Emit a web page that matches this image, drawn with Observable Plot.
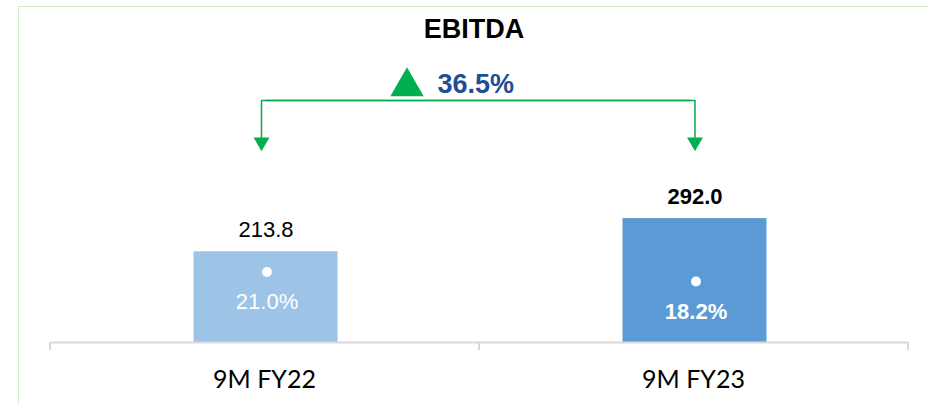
<!DOCTYPE html>
<html>
<head>
<meta charset="utf-8">
<script src="https://cdn.jsdelivr.net/npm/d3@7"></script>
<script src="https://cdn.jsdelivr.net/npm/@observablehq/plot@0.6"></script>
<style>
  html, body { margin: 0; padding: 0; background: #fff; }
  #wrap { position: relative; width: 928px; height: 404px; overflow: hidden; font-family: "Liberation Sans", Arial, sans-serif; }
  #frameTop { position: absolute; left: 18px; top: 6px; width: 910px; height: 0; border-top: 1px solid #d6edcc; }
  #frameLeft { position: absolute; left: 18px; top: 6px; width: 0; height: 398px; border-left: 1px solid #d6edcc; }
  #title { position: absolute; left: 0; top: 14px; width: 948px; text-align: center; font-size: 27px; line-height: 30px; font-weight: bold; color: #000; }
  .layer { position: absolute; left: 0; top: 0; }
</style>
</head>
<body>
<div id="wrap">
  <div id="frameTop"></div>
  <div id="frameLeft"></div>
  <div id="main" class="layer"></div>
  <div id="overlay" class="layer"></div>
  <div id="title"></div>
</div>
<script>
// ---- data ----
const title = "EBITDA";
const categories = ["9M FY22", "9M FY23"];
const ebitda = [213.8, 292.0];
const margin = [21.0, 18.2];
const growthLabel = "36.5%";

// ---- build ----
const data = categories.map((c, i) => ({
  period: c,
  ebitda: ebitda[i],
  margin: margin[i],
  label: ebitda[i].toFixed(1),
  mlabel: margin[i].toFixed(1) + "%"
}));
document.getElementById("title").textContent = title;

const W = 928, H = 404, mL = 50, mR = 20, mT = 0, mB = 62;
const step = (W - mL - mR) / categories.length;
const maxV = d3.max(ebitda);
const green = "#00B050";
const font = "'Liberation Sans', Arial, sans-serif";
const c0 = categories[0], c1 = categories[categories.length - 1];
const first = data.slice(0, 1), last = data.slice(-1);
const shift = 1.5;

const xScale = {domain: categories, paddingInner: 0.664, paddingOuter: 0.332, label: null};
const levelTop = maxV * 1.953, levelTip = maxV * 1.655, levelHead = maxV * 1.618;

const main = Plot.plot({
  width: W, height: H,
  marginLeft: mL, marginRight: mR, marginTop: mT, marginBottom: mB,
  style: {background: "transparent", fontFamily: font, overflow: "visible"},
  x: xScale,
  y: {domain: [0, maxV * 2.76], axis: null},
  color: {domain: categories, range: ["#9DC3E6", "#5B9BD5"]},
  marks: [
    Plot.barY(data, {x: "period", y: "ebitda", fill: "period", dx: shift}),
    Plot.ruleY([0], {stroke: "#D9D9D9", strokeWidth: 2}),
    Plot.ruleX(categories, {x: d => d, y1: 0, y2: 0, insetBottom: -8, dx: -step / 2, stroke: "#D9D9D9", strokeWidth: 2}),
    Plot.ruleX([c1], {x: d => d, y1: 0, y2: 0, insetBottom: -8, dx: step / 2, stroke: "#D9D9D9", strokeWidth: 2}),
    Plot.axisX({tickSize: 0, tickPadding: 28, fontSize: 25, fontFamily: "Lato, 'Liberation Sans', sans-serif", fill: "#000"}),
    Plot.text(first, {x: "period", y: "ebitda", text: "label", dx: shift, dy: -22, fontSize: 22, fill: "#000"}),
    Plot.text(last, {x: "period", y: "ebitda", text: "label", dx: shift, dy: -22, fontSize: 22, fontWeight: "bold", fill: "#000"}),
    // bracket
    Plot.line([{x: c0, y: levelTip}, {x: c0, y: levelTop}, {x: c1, y: levelTop}], {x: "x", y: "y", dx: -3, stroke: green, strokeWidth: 1.5}),
    Plot.line([{x: c0, y: levelTop}, {x: c1, y: levelTop}, {x: c1, y: levelTip}], {x: "x", y: "y", dx: shift, stroke: green, strokeWidth: 1.5}),
    Plot.dot([c0], {x: d => d, y: () => levelHead, dx: -3, symbol: "triangle", rotate: 180, r: 5.9, fill: green, stroke: null}),
    Plot.dot([c1], {x: d => d, y: () => levelHead, dx: shift, symbol: "triangle", rotate: 180, r: 5.9, fill: green, stroke: null}),
    // growth annotation
    Plot.dot([growthLabel], {frameAnchor: "top", dx: -72.5, dy: 86, symbol: "triangle", r: 12.4, fill: green, stroke: null}),
    Plot.text([growthLabel], {frameAnchor: "top", lineAnchor: "middle", text: d => d, textAnchor: "start", dx: -42, dy: 84, fontSize: 27, fontWeight: "bold", fill: "#1F4E96"})
  ]
});
document.getElementById("main").appendChild(main);

const overlay = Plot.plot({
  width: W, height: H,
  marginLeft: mL, marginRight: mR, marginTop: mT, marginBottom: mB,
  style: {background: "transparent", fontFamily: font, overflow: "visible"},
  x: {...xScale, axis: null},
  y: {domain: [0, 102], axis: null},
  marks: [
    Plot.dot(data, {x: "period", y: "margin", dx: shift, r: 5, fill: "#fff", stroke: null}),
    Plot.text(first, {x: "period", y: "margin", text: "mlabel", dx: shift, dy: 30, fontSize: 22, fill: "#fff"}),
    Plot.text(last, {x: "period", y: "margin", text: "mlabel", dx: shift, dy: 30, fontSize: 22, fontWeight: "bold", fill: "#fff"})
  ]
});
document.getElementById("overlay").appendChild(overlay);
</script>
</body>
</html>
